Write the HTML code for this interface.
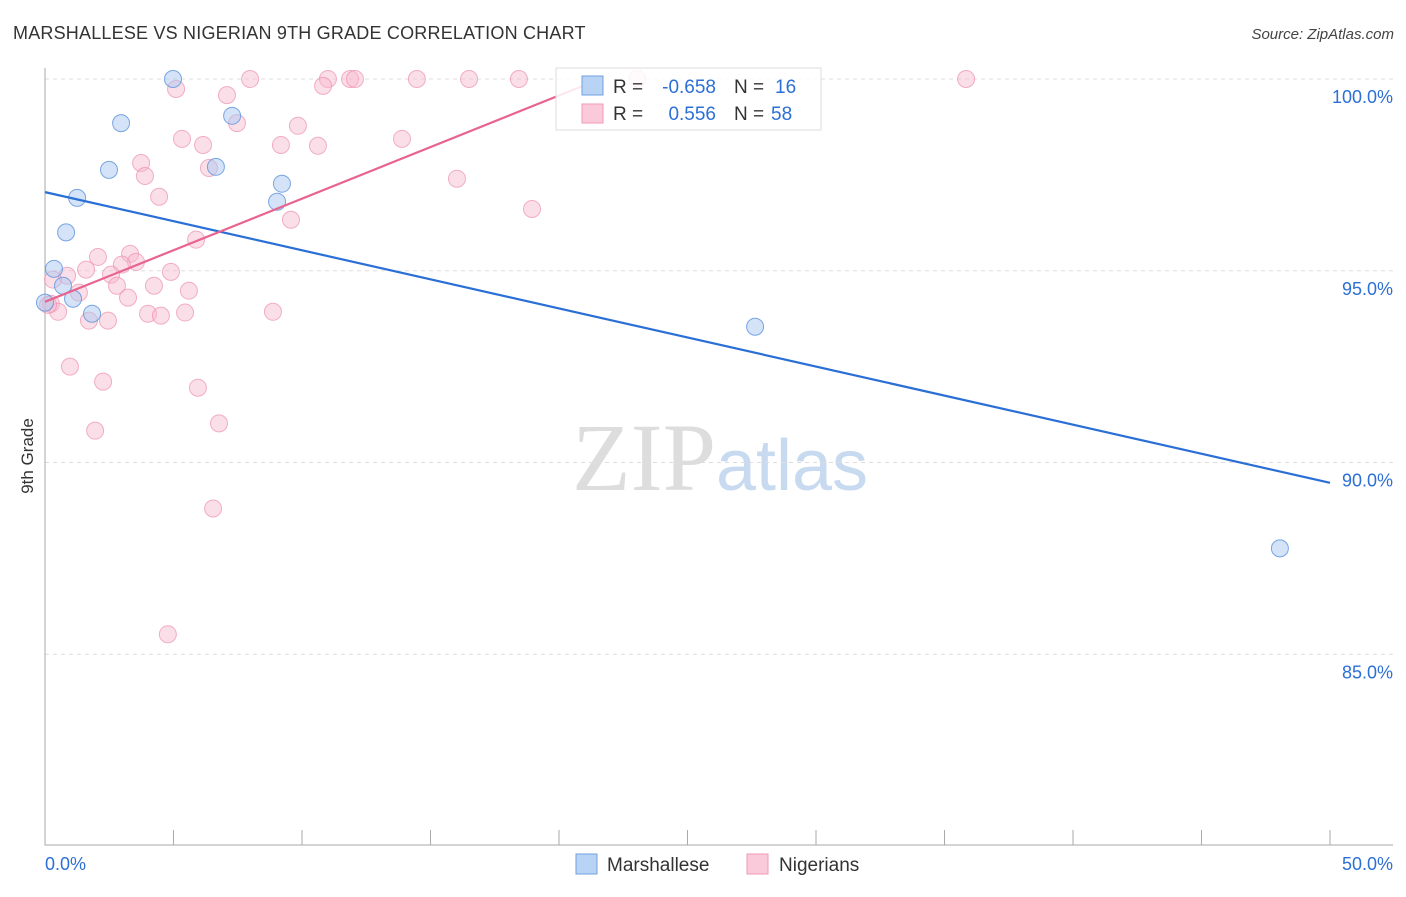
<!DOCTYPE html>
<html><head><meta charset="utf-8"><style>
body{margin:0;background:#fff;font-family:"Liberation Sans",sans-serif}
</style></head><body>
<svg id="chart" width="1406" height="892" xmlns="http://www.w3.org/2000/svg" font-family="Liberation Sans, sans-serif">
<text x="13" y="39" font-size="18" fill="#333" letter-spacing="0.2">MARSHALLESE VS NIGERIAN 9TH GRADE CORRELATION CHART</text>
<text x="1394" y="39" font-size="15" fill="#444" font-style="italic" text-anchor="end">Source: ZipAtlas.com</text>
<text transform="translate(33,456) rotate(-90)" font-size="17" fill="#333" text-anchor="middle">9th Grade</text>
<text x="720" y="490" font-size="96" text-anchor="middle"><tspan fill="#ddd" font-family="Liberation Serif, serif">ZIP</tspan><tspan fill="#c8daf0" font-size="72">atlas</tspan></text>
<g id="grid"></g><g id="axes"></g><g id="marks"></g>
<g>
<rect x="556" y="68" width="265" height="62" fill="#fff" fill-opacity="0.85" stroke="#ddd"/>
<rect x="582" y="76" width="21" height="19" fill="#b9d3f4" stroke="#6fa0e0"/>
<rect x="582" y="104" width="21" height="19" fill="#fbcada" stroke="#ef9ab6"/>
<text x="613" y="93" font-size="19" fill="#333">R =</text>
<text x="716" y="93" font-size="19" fill="#2c6fd6" text-anchor="end">-0.658</text>
<text x="734" y="93" font-size="19" fill="#333">N =</text>
<text x="775" y="93" font-size="19" fill="#2c6fd6">16</text>
<text x="613" y="120" font-size="19" fill="#333">R =</text>
<text x="716" y="120" font-size="19" fill="#2c6fd6" text-anchor="end">0.556</text>
<text x="734" y="120" font-size="19" fill="#333">N =</text>
<text x="771" y="120" font-size="19" fill="#2c6fd6">58</text>
</g>
<g>
<rect x="576" y="854" width="21" height="20" fill="#b9d3f4" stroke="#6fa0e0"/>
<text x="607" y="871" font-size="19" fill="#333">Marshallese</text>
<rect x="747" y="854" width="21" height="20" fill="#fbcada" stroke="#ef9ab6"/>
<text x="779" y="871" font-size="19" fill="#333">Nigerians</text>
</g>
</svg>
<script>
const yTicks=[100,95,90,85];
const xTickLabels=["0.0%","50.0%"];
const blueX=[4.98,2.96,2.49,6.65,7.28,9.22,9.03,1.25,0.82,0.35,0.70,1.09,0.0,1.83,27.63,48.05];
const blueY=[100.0,98.85,97.63,97.71,99.04,97.27,96.8,96.9,96.0,95.05,94.61,94.27,94.17,93.88,93.54,87.76];
const pinkX=[5.1,7.08,7.98,11.01,10.82,11.87,12.06,14.47,16.5,18.44,23.04,35.84,5.33,6.15,7.47,9.18,9.84,10.62,13.89,3.74,3.89,6.38,4.44,16.03,18.95,9.57,5.88,2.06,3.31,3.54,2.99,1.6,0.86,0.31,2.57,4.9,4.24,2.8,5.6,1.32,3.23,0.23,0.51,0.12,4.01,4.51,5.45,8.87,1.71,2.45,0.97,2.26,5.95,6.77,1.95,6.54,4.78];
const pinkY=[99.74,99.58,100,100,99.82,100,100,100,100,100,100,100,98.44,98.28,98.85,98.28,98.78,98.26,98.44,97.81,97.47,97.68,96.93,97.4,96.61,96.33,95.81,95.36,95.44,95.23,95.16,95.03,94.87,94.77,94.9,94.97,94.61,94.61,94.48,94.43,94.3,94.14,93.93,94.11,93.88,93.83,93.91,93.93,93.7,93.7,92.5,92.11,91.95,91.02,90.83,88.8,85.52];
const blueLine=[[0,97.05],[50,89.47]];
const pinkLine=[[0,94.19],[21.6,100]];
const X=v=>45+v/50*1285, Y=v=>79+(100-v)*38.35;
const ns="http://www.w3.org/2000/svg";
function mk(g,t,a){const e=document.createElementNS(ns,t);for(const k in a)e.setAttribute(k,a[k]);document.getElementById(g).appendChild(e);return e;}
yTicks.forEach(t=>{
 const l=mk('grid','line',{x1:45,x2:1393,y1:Y(t),y2:Y(t),stroke:'#ddd','stroke-dasharray':'4,4'});
 
 
 const tx=mk('axes','text',{x:1393,y:Y(t)+24,'font-size':18,fill:'#2c6fd6','text-anchor':'end'});tx.textContent=t.toFixed(1)+'%';
 
 
});
const ax=mk('axes','path',{d:'M45 68V845H1393',fill:'none',stroke:'#aaa'});


for(let i=0;i<=10;i++){const t=mk('axes','line',{x1:X(i*5),x2:X(i*5),y1:830,y2:845,stroke:'#aaa'});
 
 }
[[0,'start',45],[1,'end',1393]].forEach(([i,a,x])=>{const t=mk('axes','text',{x:x,y:870,'font-size':18,fill:'#2c6fd6','text-anchor':a});t.textContent=xTickLabels[i];
 
 });
pinkX.forEach((x,i)=>{const c=mk('marks','circle',{cx:X(x),cy:Y(pinkY[i]),r:8.5,fill:'#f7b8cc',stroke:'#ec90ae','fill-opacity':0.45,'stroke-opacity':0.7});
 
 });
blueX.forEach((x,i)=>{const c=mk('marks','circle',{cx:X(x),cy:Y(blueY[i]),r:8.5,fill:'#a9c8f0',stroke:'#5b92dc','fill-opacity':0.5,'stroke-opacity':0.8});
 
 });
const bl=mk('marks','line',{x1:X(blueLine[0][0]),y1:Y(blueLine[0][1]),x2:X(blueLine[1][0]),y2:Y(blueLine[1][1]),stroke:'#2a6fd6','stroke-width':2.2});


const pl=mk('marks','line',{x1:X(pinkLine[0][0]),y1:Y(pinkLine[0][1]),x2:X(pinkLine[1][0]),y2:Y(pinkLine[1][1]),stroke:'#e8648f','stroke-width':2.2});


</script>
</body></html>
